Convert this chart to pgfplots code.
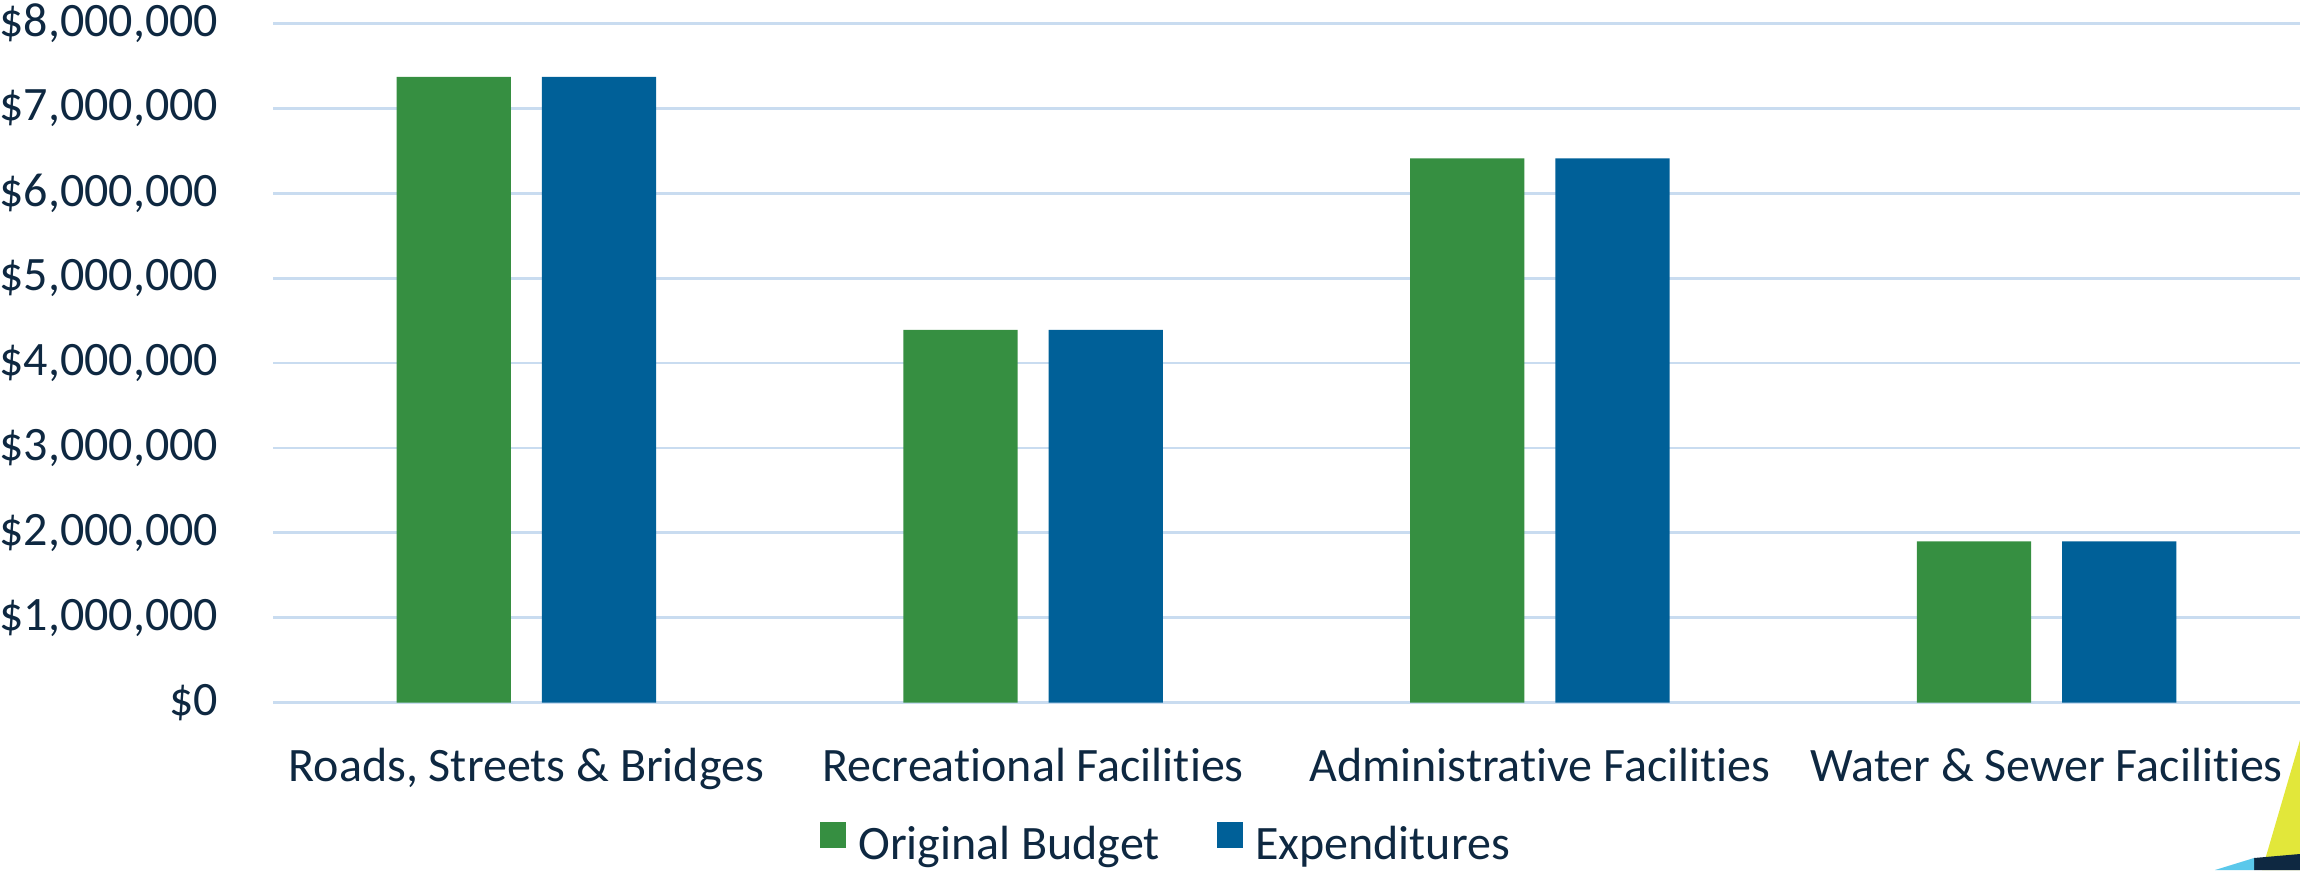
\documentclass[border=0pt]{standalone}
\usepackage{pgfplots}
\pgfplotsset{compat=1.18}
\usepackage{fontspec}
\setmainfont[Ligatures={NoCommon,NoRare,NoContextual}]{Carlito}
\definecolor{txt}{HTML}{0E2841}
\definecolor{grn}{HTML}{368F41}
\definecolor{blu}{HTML}{006098}
\definecolor{grd}{HTML}{C9DCF0}
\definecolor{ylw}{HTML}{E2E73A}
\definecolor{lbl}{HTML}{5AC8EB}
\begin{document}
\begin{tikzpicture}
\path[use as bounding box, clip] (0,0) rectangle (575pt,217.5pt);
\begin{axis}[
  at={(68.25pt,41.85pt)}, anchor=south west,
  scale only axis, width=506.75pt, height=169.8pt,
  ybar, xmin=-0.5, xmax=3.5, ymin=0, ymax=8000000,
  xtick={0,1,2,3},
  xticklabels={{Roads, Streets \& Bridges},{Recreational Facilities},{Administrative Facilities},{Water \& Sewer Facilities}},
  ytick={0,1000000,2000000,3000000,4000000,5000000,6000000,7000000,8000000},
  yticklabels={\$0,{\$1,000,000},{\$2,000,000},{\$3,000,000},{\$4,000,000},{\$5,000,000},{\$6,000,000},{\$7,000,000},{\$8,000,000}},
  scaled y ticks=false,
  axis line style={draw=none}, tick style={draw=none},
  ymajorgrids, grid style={grd, line width=0.7pt},
  ticklabel style={font=\fontsize{12}{14}\selectfont, text=txt},
  yticklabel style={inner sep=0pt, anchor=east, xshift=-13.5pt},
  xticklabel style={inner sep=0pt, anchor=base, yshift=-15.5pt},
  legend columns=2,
  legend style={draw=none, fill=none, at={(0.442,-0.211)}, anchor=center,
    font=\fontsize{12}{14}\selectfont, text=txt,
    /tikz/every odd column/.append style={column sep=1.1pt},
    /tikz/every even column/.append style={column sep=12.2pt}},
  legend image code/.code={\fill[#1] (0pt,-0.6pt) rectangle (6.5pt,5.9pt);},
  clip=false,
]
\addplot[fill=grn, draw=none, bar width=0.2258, bar shift=-0.1433] coordinates {(0,7370000) (1,4390000) (2,6410000) (3,1900000)};
\addplot[fill=blu, draw=none, bar width=0.2258, bar shift=0.1433] coordinates {(0,7370000) (1,4390000) (2,6410000) (3,1900000)};
\legend{Original Budget, Expenditures}
\end{axis}
\fill[ylw] (575pt,32.5pt) -- (565.5pt,0pt) -- (575pt,0pt) -- cycle;
\fill[txt] (563.5pt,3pt) -- (575pt,4pt) -- (575pt,0pt) -- (563.5pt,0pt) -- cycle;
\fill[lbl] (553.75pt,0pt) -- (563.5pt,3pt) -- (563.5pt,0pt) -- cycle;
\end{tikzpicture}
\end{document}
